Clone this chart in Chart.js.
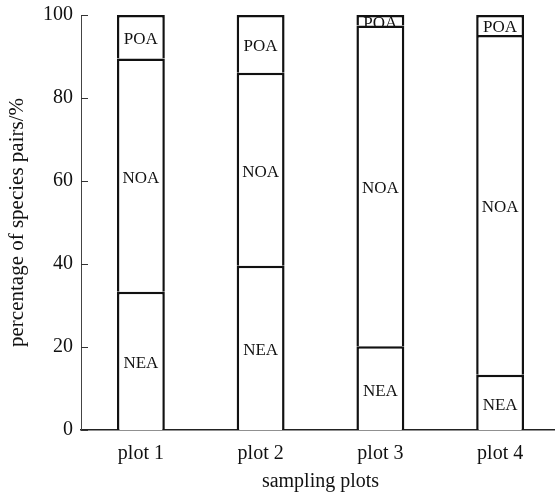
<!DOCTYPE html>
<html>
<head>
<meta charset="utf-8">
<script src="https://cdn.jsdelivr.net/npm/chart.js@4"></script>
<style>
  html, body { margin: 0; padding: 0; background: #fff; overflow: hidden; }
  #wrap { width: 560px; height: 494px; }
</style>
</head>
<body>
<div id="wrap"><canvas id="chart" width="560" height="494"></canvas></div>
<script>
// categories and series (percent of species pairs)
const plots = ['plot 1', 'plot 2', 'plot 3', 'plot 4'];
const neaValues = [33.3, 39.6, 20.2, 13.3];
const noaValues = [56.2, 46.5, 77.3, 81.9];
const poaValues = [10.5, 13.9, 2.5, 4.8];
const yTicks = [0, 20, 40, 60, 80, 100];

const serif = '"Liberation Serif", "DejaVu Serif", serif';

// write the segment name in the middle of each stacked piece
const segmentLabels = {
    id: 'segmentLabels',
    afterDatasetsDraw(chart) {
        const c = chart.ctx;
        c.save();
        c.font = '17px ' + serif;
        c.fillStyle = '#111';
        c.textAlign = 'center';
        c.textBaseline = 'middle';
        chart.data.datasets.forEach((ds, i) => {
            chart.getDatasetMeta(i).data.forEach(bar => {
                c.fillText(ds.label, bar.x, (bar.y + bar.base) / 2 + 3);
            });
        });
        c.restore();
    }
};

// short tick marks pointing into the plot
const inwardTicks = {
    id: 'inwardTicks',
    afterDraw(chart) {
        const y = chart.scales.y;
        const c = chart.ctx;
        c.save();
        c.strokeStyle = '#333';
        c.lineWidth = 1;
        yTicks.forEach(v => {
            const py = Math.round(y.getPixelForValue(v)) + 0.5;
            c.beginPath();
            c.moveTo(y.right, py);
            c.lineTo(y.right + 7, py);
            c.stroke();
        });
        c.restore();
    }
};

const barStyle = {
    backgroundColor: '#fff',
    borderColor: '#111',
    borderWidth: 2.5,
    barPercentage: 0.4,
    categoryPercentage: 1.0
};

new Chart(document.getElementById('chart'), {
    type: 'bar',
    data: {
        labels: plots,
        datasets: [
            Object.assign({ label: 'NEA', data: neaValues }, barStyle),
            Object.assign({ label: 'NOA', data: noaValues }, barStyle),
            Object.assign({ label: 'POA', data: poaValues }, barStyle)
        ]
    },
    options: {
        responsive: false,
        animation: false,
        layout: { padding: { top: 15, left: 0, right: 0, bottom: 0 } },
        plugins: {
            legend: { display: false },
            tooltip: { enabled: false }
        },
        scales: {
            x: {
                stacked: true,
                afterFit: s => { s.height = 64; },
                grid: { display: false, drawTicks: false },
                border: { display: true, color: '#222', width: 1.5 },
                ticks: { color: '#111', padding: 12, font: { family: serif, size: 20 } },
                title: {
                    display: true, text: 'sampling plots', color: '#111',
                    font: { family: serif, size: 20 }, padding: { top: 0, bottom: 0 }
                }
            },
            y: {
                stacked: true,
                min: 0,
                max: 100,
                afterBuildTicks: s => { s.ticks = yTicks.map(v => ({ value: v })); },
                afterFit: s => { s.width = 81; s.paddingTop = 0; s.paddingBottom = 0; },
                grid: { display: false, drawTicks: false },
                border: { display: true, color: '#444', width: 1 },
                ticks: { color: '#111', padding: 8, font: { family: serif, size: 20 } },
                title: {
                    display: true, text: 'percentage of species pairs/%', color: '#111',
                    font: { family: serif, size: 21 }, padding: { top: 5, bottom: 0 }
                }
            }
        }
    },
    plugins: [segmentLabels, inwardTicks]
});
</script>
</body>
</html>
